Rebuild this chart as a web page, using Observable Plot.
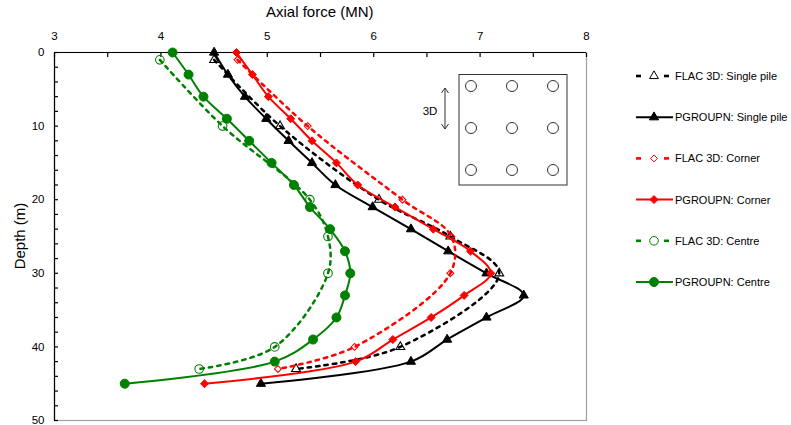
<!DOCTYPE html>
<html>
<head>
<meta charset="utf-8">
<script src="https://cdn.jsdelivr.net/npm/d3@7"></script>
<script src="https://cdn.jsdelivr.net/npm/@observablehq/plot@0.6"></script>
<style>
  html, body { margin: 0; padding: 0; background: #fff; }
  #wrap { position: relative; width: 791px; height: 425px; overflow: hidden; font-family: "Liberation Sans", Arial, sans-serif; }
  #wrap svg { position: absolute; left: 0; top: 0; }
  .ttl { position: absolute; font-size: 15px; color: #000; white-space: nowrap; }
</style>
</head>
<body>
<div id="wrap"></div>
<script>
// ---- Data ----
const depthPG = [0, 3, 6, 9, 12, 15, 18, 21, 24, 27, 30, 33, 36, 39, 42, 45];
const pgSingle = [4.50, 4.63, 4.79, 4.99, 5.20, 5.42, 5.64, 5.99, 6.35, 6.70, 7.06, 7.41, 7.06, 6.69, 6.35, 4.94];
const pgCorner = [4.71, 4.86, 5.01, 5.22, 5.42, 5.65, 5.85, 6.20, 6.56, 6.91, 7.10, 6.85, 6.54, 6.18, 5.83, 4.41];
const pgCentre = [4.11, 4.26, 4.40, 4.62, 4.83, 5.04, 5.25, 5.40, 5.59, 5.73, 5.78, 5.73, 5.65, 5.43, 5.07, 3.66];

const depthFLAC = [1, 10, 20, 25, 30, 40, 43];
const flacSingle = [4.50, 5.12, 6.05, 6.72, 7.18, 6.25, 5.27];
const flacCorner = [4.72, 5.38, 6.27, 6.73, 6.72, 5.82, 5.10];
const flacCentre = [3.99, 4.58, 5.40, 5.57, 5.57, 5.07, 4.36];

const seriesNames = ["FLAC 3D: Single pile", "PGROUPN: Single pile", "FLAC 3D: Corner", "PGROUPN: Corner", "FLAC 3D: Centre", "PGROUPN: Centre"];
const xTicks = [3, 4, 5, 6, 7, 8];
const yTicks = [0, 10, 20, 30, 40, 50];

// ---- Styles ----
const styles = [
  {values: flacSingle, depths: depthFLAC, color: "#000000", dashed: true,  symbol: "triangle", filled: false, r: 3.3},
  {values: pgSingle,   depths: depthPG,   color: "#000000", dashed: false, symbol: "triangle", filled: true,  r: 3.4},
  {values: flacCorner, depths: depthFLAC, color: "#ff0000", dashed: true,  symbol: "diamond2", filled: false, r: 3.1},
  {values: pgCorner,   depths: depthPG,   color: "#ff0000", dashed: false, symbol: "diamond2", filled: true,  r: 3.6},
  {values: flacCentre, depths: depthFLAC, color: "#008000", dashed: true,  symbol: "circle",   filled: false, r: 4.3},
  {values: pgCentre,   depths: depthPG,   color: "#008000", dashed: false, symbol: "circle",   filled: true,  r: 4.5}
];
const series = styles.map((s, i) => ({
  ...s, name: seriesNames[i],
  rows: s.values.map((v, j) => ({x: v, depth: s.depths[j]}))
}));

const W = 791, H = 425;
const mL = 54, mR = 205, mT = 52, mB = 5;

const marks = [
  Plot.frame({stroke: "#a0a0a0", strokeWidth: 1.2}),
  Plot.axisX({anchor: "top", ticks: xTicks, tickSize: 0, tickPadding: 13, fontSize: 11.5, tickFormat: d3.format("d"), label: null}),
  Plot.axisX({anchor: "top", ticks: d3.range(3, 8.001, 0.5), tickSize: 4, dy: 4, tickFormat: () => "", label: null, strokeWidth: 1.2}),
  Plot.axisY({anchor: "left", ticks: yTicks, tickSize: 0, tickPadding: 10, fontSize: 11.5, tickFormat: d3.format("d"), label: null}),
  Plot.axisY({anchor: "left", ticks: d3.range(0, 50.001, 2), tickSize: 4, dx: 4, tickFormat: () => "", label: null, strokeWidth: 1.2}),
  Plot.ruleY([0], {stroke: "#000", strokeWidth: 1.2}),
  Plot.ruleX([3], {stroke: "#000", strokeWidth: 1.2})
];
for (const s of series) {
  marks.push(Plot.line(s.rows, {
    x: "x", y: "depth", curve: "catmull-rom", stroke: s.color,
    strokeWidth: s.dashed ? 2.5 : 2,
    strokeDasharray: s.dashed ? "3.5,5" : null
  }));
  marks.push(Plot.dot(s.rows, {
    x: "x", y: "depth", symbol: s.symbol, r: s.r,
    fill: s.filled ? s.color : "none", stroke: s.color, strokeWidth: s.filled ? 1 : 1.1
  }));
}

const chart = Plot.plot({
  width: W, height: H,
  marginLeft: mL, marginRight: mR, marginTop: mT, marginBottom: mB,
  style: {fontFamily: "'Liberation Sans', Arial, sans-serif", fontSize: "11.5px", color: "#000", background: "#fff"},
  x: {domain: [3, 8]},
  y: {domain: [0, 50], reverse: true},
  marks
});
const wrap = document.getElementById("wrap");
wrap.appendChild(chart);

// Axis titles
const t1 = document.createElement("div");
t1.className = "ttl"; t1.textContent = "Axial force (MN)";
t1.style.left = "0px"; t1.style.top = "3px";
wrap.appendChild(t1);
const xs = chart.scale("x"), ys = chart.scale("y");
const xc = (xs.apply(3) + xs.apply(8)) / 2;
t1.style.left = (xc - t1.offsetWidth / 2) + "px";

const ov = d3.select(wrap).append("svg")
  .attr("width", W).attr("height", H)
  .style("pointer-events", "none")
  .style("font-family", "'Liberation Sans', Arial, sans-serif");

const yc = (ys.apply(0) + ys.apply(50)) / 2;
ov.append("text").attr("transform", `translate(25,${yc}) rotate(-90)`)
  .attr("text-anchor", "middle").attr("font-size", 15).text("Depth (m)");

// Inset: 3x3 pile group schematic
const ins = ov.append("g");
ins.append("rect").attr("x", 459).attr("y", 74.5).attr("width", 108).attr("height", 110.5)
  .attr("fill", "none").attr("stroke", "#333").attr("stroke-width", 1);
for (let i = 0; i < 3; i++) for (let j = 0; j < 3; j++) {
  ins.append("circle").attr("cx", 471 + i * 41).attr("cy", 86 + j * 42).attr("r", 5.5)
    .attr("fill", "none").attr("stroke", "#333").attr("stroke-width", 1);
}
ins.append("path").attr("d", "M445,88 L445,129 M441.5,93 L445,88 L448.5,93 M441.5,124 L445,129 L448.5,124")
  .attr("fill", "none").attr("stroke", "#333").attr("stroke-width", 1);
ins.append("text").attr("x", 430).attr("y", 115).attr("text-anchor", "middle")
  .attr("font-size", 11.5).text("3D");

// Legend
series.forEach((s, i) => {
  const y = 76 + i * 41.2;
  const g = ov.append("g");
  if (s.dashed) {
    g.append("line").attr("x1", 636).attr("x2", 641).attr("y1", y).attr("y2", y)
      .attr("stroke", s.color).attr("stroke-width", 2.6);
    g.append("line").attr("x1", 664).attr("x2", 669).attr("y1", y).attr("y2", y)
      .attr("stroke", s.color).attr("stroke-width", 2.6);
  } else {
    g.append("line").attr("x1", 636).attr("x2", 673).attr("y1", y).attr("y2", y)
      .attr("stroke", s.color).attr("stroke-width", 2);
  }
  const sym = s.symbol === "triangle" ? d3.symbolTriangle : s.symbol === "diamond2" ? d3.symbolDiamond2 : d3.symbolCircle;
  g.append("path").attr("transform", `translate(654,${y})`)
    .attr("d", d3.symbol(sym, Math.PI * s.r * s.r)())
    .attr("fill", s.filled ? s.color : "none").attr("stroke", s.color).attr("stroke-width", 1);
  g.append("text").attr("x", 675).attr("y", y + 4).attr("font-size", 11).text(s.name);
});
</script>
</body>
</html>
